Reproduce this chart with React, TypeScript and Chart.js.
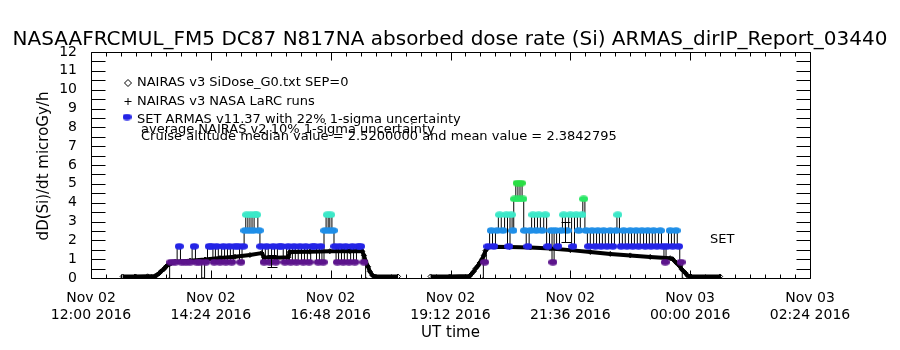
import React, { useEffect, useRef } from 'react';
import { Chart, registerables } from 'chart.js';

Chart.register(...registerables);

// ---------- texts ----------
const TITLE = 'NASAAFRCMUL_FM5 DC87 N817NA absorbed dose rate (Si) ARMAS_dirIP_Report_03440';
const Y_TITLE = 'dD(Si)/dt microGy/h';
const X_TITLE = 'UT time';
const LEGEND_1 = 'NAIRAS v3 SiDose_G0.txt SEP=0';
const LEGEND_2 = 'NAIRAS v3 NASA LaRC runs';
const LEGEND_3 = 'SET ARMAS v11.37 with 22% 1-sigma uncertainty';
const LEGEND_4 = 'average NAIRAS v2 10% 1-sigma uncertainty';
const LEGEND_5 = 'Cruise altitude median value = 2.5200000 and mean value = 2.3842795';
const SET_LABEL = 'SET';

// ---------- axes (x in minutes after Nov 02 2016 12:00 UT) ----------
const X_MIN = 0;
const X_MAX = 864;
const X_TICK_VALUES = [0, 144, 288, 432, 576, 720, 864];
const X_TICK_LABELS = [
  ['Nov 02', '12:00 2016'],
  ['Nov 02', '14:24 2016'],
  ['Nov 02', '16:48 2016'],
  ['Nov 02', '19:12 2016'],
  ['Nov 02', '21:36 2016'],
  ['Nov 03', '00:00 2016'],
  ['Nov 03', '02:24 2016'],
];
const X_MINOR_STEP = 18;
const Y_MIN = 0;
const Y_MAX = 12;
const Y_TICK_VALUES = [0, 1, 2, 3, 4, 5, 6, 7, 8, 9, 10, 11, 12];
const Y_MINOR_STEP = 0.5;

// ---------- NAIRAS v3 SiDose_G0 (black diamonds) ----------
const nairasF1Times = [38, 53, 68, 77, 79, 82, 84, 87, 89, 91, 94, 96, 99, 101, 119, 137, 155, 173, 191, 205, 208, 222, 237, 239, 263, 287, 311, 326, 328, 330, 333, 335, 338, 341, 369];
const nairasF1Values = [0.08, 0.08, 0.09, 0.1, 0.15, 0.25, 0.35, 0.45, 0.55, 0.65, 0.72, 0.78, 0.83, 0.86, 0.92, 0.98, 1.06, 1.13, 1.22, 1.32, 1.1, 1.08, 1.1, 1.38, 1.4, 1.42, 1.43, 1.42, 1.2, 0.9, 0.6, 0.35, 0.15, 0.08, 0.08];
const nairasF2Times = [408, 431, 455, 457, 460, 462, 465, 467, 470, 472, 474, 477, 479, 503, 528, 552, 576, 600, 624, 648, 672, 696, 699, 703, 707, 710, 714, 717, 721, 756];
const nairasF2Values = [0.08, 0.08, 0.1, 0.2, 0.35, 0.5, 0.65, 0.8, 1.0, 1.2, 1.45, 1.62, 1.66, 1.65, 1.62, 1.56, 1.48, 1.38, 1.28, 1.2, 1.12, 1.05, 1.0, 0.82, 0.65, 0.45, 0.28, 0.12, 0.08, 0.08];

// ---------- NAIRAS v3 NASA LaRC runs (flight averages with uncertainty) ----------
const larcTimes = [216, 570];
const larcValues = [0.9, 2.44];
const larcErrors = [0.3, 0.53];

// ---------- SET ARMAS v11.37 ----------
const armasF1Times = [93, 96, 101, 106, 109, 114, 119, 124, 127, 131, 135, 138, 142, 145, 148, 151, 155, 159, 162, 166, 169, 173, 177, 180, 183, 185, 187, 190, 192, 195, 197, 199, 202, 204, 208, 211, 215, 219, 222, 226, 229, 233, 237, 240, 244, 247, 251, 255, 258, 262, 266, 269, 273, 276, 279, 281, 284, 286, 288, 291, 293, 296, 299, 303, 306, 310, 314, 317, 321, 324, 328, 332];
const armasF1Values = [0, 0.84, 0.84, 1.68, 0.84, 0.84, 0.84, 1.68, 0.84, 0.84, 0, 0.84, 1.68, 1.68, 0.84, 1.68, 0.84, 1.68, 0.84, 1.68, 0.84, 1.68, 1.68, 0.84, 1.68, 2.52, 3.36, 2.52, 3.36, 2.52, 3.36, 3.36, 2.52, 1.68, 0.84, 1.68, 0.84, 1.68, 0.84, 1.68, 1.68, 0.84, 1.68, 0.84, 1.68, 0.84, 1.68, 0.84, 1.68, 0.84, 1.68, 1.68, 0.84, 1.68, 0.84, 2.52, 3.36, 2.52, 3.36, 2.52, 1.68, 0.84, 1.68, 0.84, 1.68, 0.84, 1.68, 0.84, 1.68, 1.68, 0.84, 0];
const armasF2Times = [470, 473, 477, 481, 484, 488, 491, 495, 499, 502, 505, 507, 509, 512, 514, 517, 519, 521, 525, 528, 531, 535, 538, 542, 546, 549, 553, 555, 558, 561, 565, 568, 572, 576, 579, 583, 586, 590, 592, 595, 598, 602, 606, 609, 613, 616, 620, 624, 627, 631, 633, 637, 640, 644, 648, 651, 655, 658, 662, 666, 669, 673, 676, 680, 684, 687, 690, 692, 696, 699, 703, 706, 709, 712];
const armasF2Values = [0, 0.84, 1.68, 2.52, 1.68, 2.52, 3.36, 2.52, 3.36, 1.68, 3.36, 2.52, 4.2, 5.04, 4.2, 5.04, 4.2, 2.52, 1.68, 2.52, 3.36, 2.52, 3.36, 2.52, 3.36, 1.68, 2.52, 0.84, 2.52, 1.68, 2.52, 3.36, 2.52, 3.36, 1.68, 3.36, 2.52, 3.36, 4.2, 2.52, 1.68, 2.52, 1.68, 2.52, 1.68, 2.52, 1.68, 2.52, 1.68, 2.52, 3.36, 1.68, 2.52, 1.68, 2.52, 1.68, 2.52, 1.68, 2.52, 1.68, 2.52, 1.68, 2.52, 1.68, 2.52, 1.68, 0.84, 1.68, 2.52, 1.68, 2.52, 1.68, 0.84, 0];

// ---------- styles ----------
const FONT = '"DejaVu Sans"';
const LEVEL_COLORS: [number, string][] = [
  [1.0, '#5c148c'],
  [2.0, '#2424e6'],
  [2.9, '#1e8ee8'],
  [3.8, '#3ce8c8'],
  [4.6, '#28e664'],
  [99, '#2ade44'],
];

function colorFor(v: number): string {
  for (const [lim, c] of LEVEL_COLORS) if (v < lim) return c;
  return '#000';
}

const dotCache: Record<string, HTMLCanvasElement> = {};
function dotImage(color: string): HTMLCanvasElement {
  if (dotCache[color]) return dotCache[color];
  const c = document.createElement('canvas');
  c.width = 9;
  c.height = 7;
  const g = c.getContext('2d')!;
  g.fillStyle = color;
  g.beginPath();
  g.ellipse(4.5, 3.5, 4.5, 3.3, 0, 0, Math.PI * 2);
  g.fill();
  dotCache[color] = c;
  return c;
}

const toXY = (ts: number[], vs: number[]) => ts.map((t, i) => ({ x: t, y: vs[i] }));

function line(ctx: CanvasRenderingContext2D, x1: number, y1: number, x2: number, y2: number) {
  ctx.beginPath();
  ctx.moveTo(x1, y1);
  ctx.lineTo(x2, y2);
  ctx.stroke();
}

const decorPlugin = {
  id: 'decor',
  afterDatasetsDraw(chart: any) {
    const ctx: CanvasRenderingContext2D = chart.ctx;
    const a = chart.chartArea;
    const x = chart.scales.x;
    const y = chart.scales.y;
    ctx.save();
    ctx.setLineDash([]);
    ctx.globalAlpha = 1;
    ctx.strokeStyle = '#000000';
    ctx.lineWidth = 1;
    // error bars
    larcTimes.forEach((t, i) => {
      const px = Math.round(x.getPixelForValue(t)) + 0.5;
      const top = Math.round(y.getPixelForValue(larcValues[i] + larcErrors[i])) + 0.5;
      const bot = Math.round(y.getPixelForValue(larcValues[i] - larcErrors[i])) + 0.5;
      line(ctx, px, top, px, bot);
      line(ctx, px - 4, top, px + 5, top);
      line(ctx, px - 4, bot, px + 6, bot);
    });
    // frame
    const L = Math.floor(a.left) + 0.5;
    const R = Math.floor(a.right) + 0.5;
    const T = Math.floor(a.top) + 0.5;
    const B = Math.floor(a.bottom) + 0.5;
    line(ctx, L, T, R, T);
    line(ctx, L, B, R, B);
    line(ctx, L, T, L, B);
    line(ctx, R, T, R, B);
    // y ticks (inward, both sides)
    for (let v = Y_MIN; v <= Y_MAX + 1e-9; v += Y_MINOR_STEP) {
      const py = Math.round(y.getPixelForValue(v)) + 0.5;
      line(ctx, L, py, L + 14, py);
      line(ctx, R, py, R - 14, py);
    }
    // x ticks (inward, top and bottom)
    for (let t = X_MIN; t <= X_MAX + 1e-9; t += X_MINOR_STEP) {
      const px = Math.round(x.getPixelForValue(t)) + 0.5;
      const len = X_TICK_VALUES.indexOf(t) >= 0 ? 8 : 4;
      line(ctx, px, T, px, T + len);
      line(ctx, px, B, px, B - len);
    }
    ctx.restore();
  },
  afterDraw(chart: any) {
    const ctx: CanvasRenderingContext2D = chart.ctx;
    const a = chart.chartArea;
    ctx.save();
    ctx.fillStyle = '#000';
    ctx.strokeStyle = '#000';
    ctx.lineWidth = 1;
    // title
    ctx.font = `20px ${FONT}`;
    ctx.textAlign = 'center';
    ctx.textBaseline = 'alphabetic';
    ctx.fillText(TITLE, 450, 45);
    // x title
    ctx.font = `15px ${FONT}`;
    ctx.textBaseline = 'middle';
    ctx.fillText(X_TITLE, (a.left + a.right) / 2, 333);
    // y title
    ctx.save();
    ctx.translate(44, 166);
    ctx.rotate(-Math.PI / 2);
    ctx.fillText(Y_TITLE, 0, 0);
    ctx.restore();

    // legend
    ctx.font = `13px ${FONT}`;
    ctx.textAlign = 'left';
    ctx.textBaseline = 'alphabetic';
    ctx.fillText(LEGEND_1, 137, 86);
    ctx.fillText(LEGEND_2, 137, 105);
    ctx.fillText(LEGEND_3, 137, 123);
    ctx.fillText(LEGEND_4, 141, 133);
    ctx.fillText(LEGEND_5, 141, 140);
    ctx.fillText(SET_LABEL, 710, 243);

    // legend symbols
    ctx.beginPath();
    ctx.moveTo(128, 79.5);
    ctx.lineTo(131.5, 83);
    ctx.lineTo(128, 86.5);
    ctx.lineTo(124.5, 83);
    ctx.closePath();
    ctx.stroke();
    line(ctx, 124.5, 101.5, 131.5, 101.5);
    line(ctx, 128, 98, 128, 105);
    ctx.drawImage(dotImage(colorFor(1.68)), 127 - 4.5, 117 - 3.5);
    ctx.restore();
  },
};

export default function App() {
  const ref = useRef<HTMLCanvasElement | null>(null);
  useEffect(() => {
    document.body.style.margin = '0';
    document.body.style.background = '#fff';
    const canvas = ref.current!;
    const nairasStyle = {
      borderColor: '#000',
      borderWidth: 4,
      pointStyle: 'rectRot' as const,
      pointRadius: 2.5,
      pointBorderWidth: 1,
      pointBorderColor: '#000',
      pointBackgroundColor: 'rgba(0,0,0,0)',
      tension: 0,
      order: 2,
    };
    const armasStyle = {
      borderColor: '#000',
      borderWidth: 1,
      stepped: 'middle',
      pointStyle: (c: any) => dotImage(colorFor(c.raw ? c.raw.y : 0)),
      pointRadius: (c: any) => (c.raw && c.raw.y > 0 ? 4 : 0),
      order: 1,
    };
    const chart = new Chart(canvas, {
      type: 'line',
      data: {
        datasets: [
          { label: 'NAIRAS v3 SiDose_G0 flight 1', data: toXY(nairasF1Times, nairasF1Values), ...nairasStyle },
          { label: 'NAIRAS v3 SiDose_G0 flight 2', data: toXY(nairasF2Times, nairasF2Values), ...nairasStyle },
          { label: 'SET ARMAS flight 1', data: toXY(armasF1Times, armasF1Values), ...armasStyle },
          { label: 'SET ARMAS flight 2', data: toXY(armasF2Times, armasF2Values), ...armasStyle },
        ] as any,
      },
      options: {
        animation: false,
        responsive: false,
        devicePixelRatio: 1,
        events: [],
        layout: { padding: { top: 52, right: 90, left: 0, bottom: 0 } },
        plugins: { legend: { display: false }, tooltip: { enabled: false }, title: { display: false } },
        scales: {
          x: {
            type: 'linear',
            min: X_MIN,
            max: X_MAX,
            afterFit: (s: any) => { s.height = 72; },
            afterBuildTicks: (s: any) => { s.ticks = X_TICK_VALUES.map((v) => ({ value: v })); },
            grid: { display: false },
            border: { display: false },
            ticks: {
              autoSkip: false,
              maxRotation: 0,
              minRotation: 0,
              color: '#000',
              padding: 4,
              font: { family: FONT, size: 14, lineHeight: 1.2 },
              callback: (_v: any, i: number) => X_TICK_LABELS[i],
            },
          },
          y: {
            type: 'linear',
            min: Y_MIN,
            max: Y_MAX,
            afterFit: (s: any) => { s.width = 91; },
            afterBuildTicks: (s: any) => { s.ticks = Y_TICK_VALUES.map((v) => ({ value: v })); },
            grid: { display: false },
            border: { display: false },
            ticks: {
              autoSkip: false,
              color: '#000',
              padding: 6,
              font: { family: FONT, size: 14 },
              callback: (v: any) => String(v),
            },
          },
        },
      } as any,
      plugins: [decorPlugin],
    });
    return () => chart.destroy();
  }, []);
  return (
    <div style={{ width: 900, height: 350, background: '#fff' }}>
      <canvas ref={ref} width={900} height={350} style={{ display: 'block', width: 900, height: 350 }} />
    </div>
  );
}
